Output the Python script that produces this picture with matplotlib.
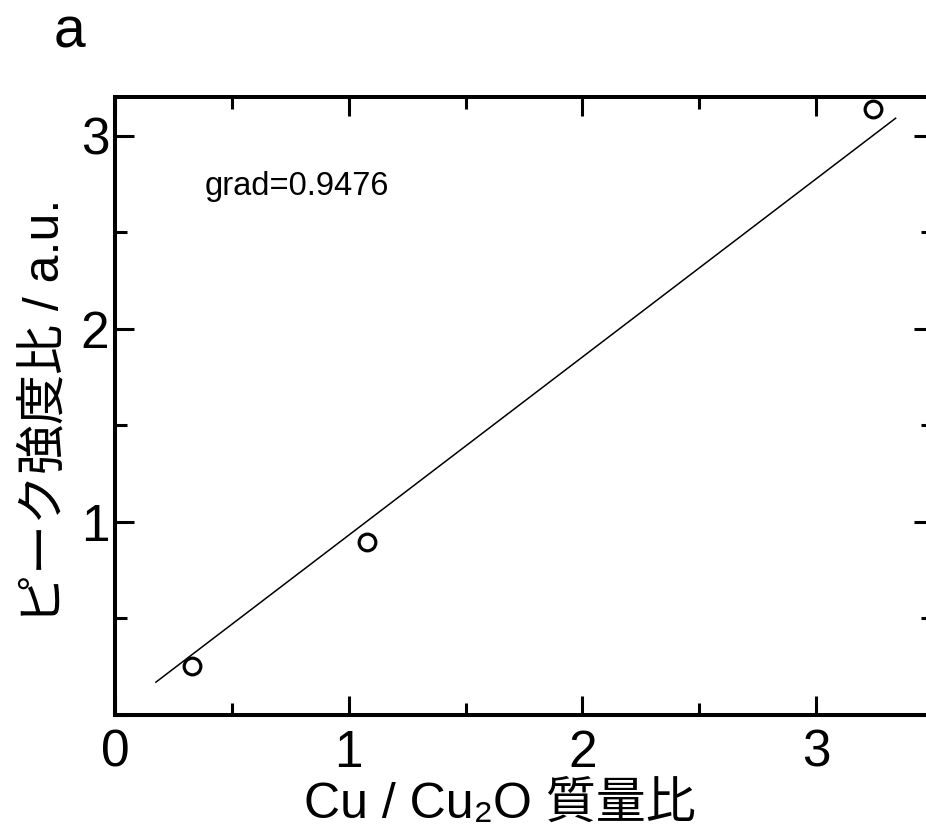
import matplotlib
matplotlib.use('Agg')
import matplotlib.pyplot as plt
from matplotlib.ticker import MultipleLocator

plt.rcParams['font.family'] = ['Liberation Sans', 'Noto Sans CJK JP', 'DejaVu Sans']

# data
mass_ratio = [0.33, 1.08, 3.245]      # Cu / Cu2O mass ratio
peak_ratio = [0.255, 0.895, 3.14]     # peak intensity ratio
fit_x = [0.175, 3.34]
fit_y = [0.17, 3.09]
grad_text = 'grad=0.9476'

xlabel = 'Cu / Cu\u2082O 質量比'
ylabel = 'ピーク強度比 / a.u.'

fig = plt.figure(figsize=(9.26, 8.38), dpi=100)
# right spine sits just off the canvas in the original
ax = fig.add_axes([115/926, 1 - 715/838, 818/926, 618/838])

ax.plot(fit_x, fit_y, color='black', lw=1.1)
ax.plot(mass_ratio, peak_ratio, 'o', ms=12, mfc='none', mec='black', mew=2.3)

ax.set_xlim(0, 3.5)
ax.set_ylim(0, 3.2)
ax.xaxis.set_major_locator(MultipleLocator(1))
ax.xaxis.set_minor_locator(MultipleLocator(0.5))
ax.set_yticks([1, 2, 3])
ax.yaxis.set_minor_locator(MultipleLocator(0.5))

ax.tick_params(which='both', direction='in', top=True, right=True, width=2.2)
ax.tick_params(which='major', length=14, labelsize=37)
ax.tick_params(which='minor', length=8.5)
ax.tick_params(axis='x', pad=10)
ax.tick_params(axis='y', pad=4)
for s in ax.spines.values():
    s.set_linewidth(2.9)

ax.set_xlabel(xlabel, fontsize=36, va='center')
ax.xaxis.set_label_coords((500 - 115) / 818, (715 - 805) / 618)
ax.set_ylabel(ylabel, fontsize=36, va='center')
ax.yaxis.set_label_coords((45 - 115) / 818, (715 - 411) / 618)

ax.text(0.385, 2.69, grad_text, fontsize=23.5, va='baseline', ha='left')
fig.text(69/926, 1 - 47/838, 'a', fontsize=41, ha='center', va='baseline')

fig.savefig('out.png', dpi=100)
